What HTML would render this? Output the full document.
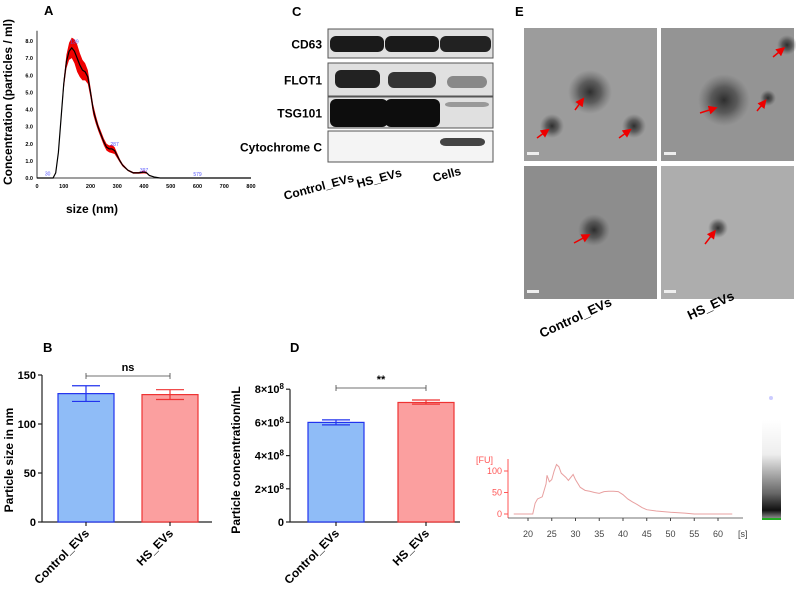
<!DOCTYPE html>
<html><head><meta charset="utf-8"><style>
html,body{margin:0;padding:0;background:#fff;}
svg{display:block;font-family:"Liberation Sans",Arial,sans-serif;}
</style></head><body>
<svg id="fig" width="796" height="598" viewBox="0 0 796 598" xmlns="http://www.w3.org/2000/svg">
<defs>
<radialGradient id="blob"><stop offset="0" stop-color="#222" stop-opacity="0.9"/><stop offset="0.5" stop-color="#333" stop-opacity="0.6"/><stop offset="1" stop-color="#555" stop-opacity="0"/></radialGradient>
<linearGradient id="lane" x1="0" y1="0" x2="0" y2="1"><stop offset="0" stop-color="#fff"/><stop offset="0.35" stop-color="#eee"/><stop offset="0.6" stop-color="#999"/><stop offset="0.75" stop-color="#666"/><stop offset="0.85" stop-color="#333"/><stop offset="0.92" stop-color="#111"/><stop offset="1" stop-color="#888"/></linearGradient>
<marker id="arr" markerWidth="6" markerHeight="6" refX="5" refY="3" orient="auto"><path d="M0,0 L6,3 L0,6 z" fill="#e00"/></marker>
</defs>
<g id="panelA"></g>
<g id="panelB"></g>
<g id="panelC"></g>
<g id="panelD"></g>
<g id="panelE"></g>
<g id="panelF"></g>
</svg>
<script>
// Panel A data
const ntaSize = [0,60,70,80,90,100,110,120,130,140,150,160,170,180,190,200,210,220,230,240,250,260,270,280,290,300,310,320,340,360,380,400,410,420,440,460,800];
const ntaConc = [0,0,0.3,1.5,3.5,5.5,6.8,7.4,7.6,7.4,7.0,6.6,6.3,6.2,5.9,5.0,4.0,3.4,2.9,2.5,2.1,1.8,1.7,1.7,1.6,1.3,1.0,0.75,0.45,0.3,0.3,0.35,0.3,0.15,0.05,0,0];
const ntaErr = [0,0,0.05,0.1,0.2,0.3,0.4,0.5,0.6,0.7,0.8,0.7,0.6,0.5,0.4,0.3,0.3,0.25,0.2,0.2,0.2,0.2,0.2,0.25,0.2,0.15,0.1,0.08,0.05,0.05,0.05,0.08,0.05,0.03,0.01,0,0];
const ntaPeakX = [40,140,290,400,600];
const ntaPeakY = [0.1,7.8,1.8,0.3,0.05];
const ntaPeakLbl = ["30","139","287","397","579"];
const ntaXTicks = [0,100,200,300,400,500,600,700,800];
const ntaYTicks = [0,1,2,3,4,5,6,7,8];
// Panel B data
const bCats = ["Control_EVs","HS_EVs"];
const bMean = [131,130];
const bLo = [123,125];
const bHi = [139,135];
const bTicks = [0,50,100,150];
// Panel D data
const dCats = ["Control_EVs","HS_EVs"];
const dMean = [6.0,7.2];
const dLo = [5.85,7.1];
const dHi = [6.15,7.35];
const dTicks = [0,2,4,6,8];
// Panel F data
const fTime = [17,21,21.5,22,23,23.8,24,24.5,25,25.5,26,26.5,27,28,28.5,29,29.5,30,31,32,33,34,35,36,37,38,39,40,41,42,43,44,45,47,50,53,55,63];
const fFU = [0,0,25,35,40,70,90,75,80,100,115,110,95,85,78,85,92,80,62,55,53,50,48,52,53,53,52,45,35,28,22,15,10,7,4,2,0,0];
const fXTicks = [20,25,30,35,40,45,50,55,60];
const fYTicks = [0,50,100];

const NS="http://www.w3.org/2000/svg";
function mk(parent,tag,attrs,text){const e=document.createElementNS(NS,tag);for(const k in attrs)e.setAttribute(k,attrs[k]);if(text!==undefined)e.textContent=text;parent.appendChild(e);return e;}

// ---------- Panel A ----------
(function(){
const g=document.getElementById('panelA');
const x=v=>37+v/800*214, y=v=>178-v/8*137;
let t=mk(g,'text',{x:44,y:15,'font-size':13,'font-weight':'bold'},'A');

let ax=mk(g,'path',{d:`M${x(0)},${y(8.6)}V${y(0)}H${x(800)}`,stroke:'#000','stroke-width':0.8,fill:'none'});

ntaYTicks.forEach(v=>{const l=mk(g,'text',{x:33,y:y(v)+2,'font-size':5.5,'font-weight':'bold','text-anchor':'end'},v.toFixed(1));
});
ntaXTicks.forEach(v=>{const l=mk(g,'text',{x:x(v),y:y(0)+10,'font-size':5.5,'font-weight':'bold','text-anchor':'middle'},v);
});
let up=ntaSize.map((s,i)=>`${x(s)},${y(ntaConc[i]+ntaErr[i])}`);
let dn=ntaSize.map((s,i)=>`${x(s)},${y(Math.max(0,ntaConc[i]-ntaErr[i]))}`).reverse();
let band=mk(g,'polygon',{points:up.concat(dn).join(' '),fill:'#ee0000'});

let ln=mk(g,'polyline',{points:ntaSize.map((s,i)=>`${x(s)},${y(ntaConc[i])}`).join(' '),fill:'none',stroke:'#000','stroke-width':1.2});

ntaPeakX.forEach((v,i)=>{const l=mk(g,'text',{x:x(v),y:y(ntaPeakY[i])-1,'font-size':5,fill:'#55f','text-anchor':'middle'},ntaPeakLbl[i]);
});
t=mk(g,'text',{x:0,y:0,'font-size':12,'font-weight':'bold','text-anchor':'middle',transform:'translate(12,102) rotate(-90)'},'Concentration (particles / ml)');

t=mk(g,'text',{x:92,y:213,'font-size':12,'font-weight':'bold','text-anchor':'middle'},'size (nm)');

})();

// ---------- bar chart helper ----------
function barChart(gid,prefix,label,lx,axX,cats,mean,lo,hi,ticks,yScale,tickFmt,title,titleX,sig,sigY,barX){
const g=document.getElementById(gid);
let t=mk(g,'text',{x:lx,y:352,'font-size':13,'font-weight':'bold'},label);

const base=522;
let a=mk(g,'path',{d:`M${axX},${yScale(ticks[ticks.length-1])}V${base}H${axX+170}`,stroke:'#222','stroke-width':1.2,fill:'none'});

ticks.forEach((v,i)=>{const yy=yScale(v);const tk=mk(g,'line',{x1:axX-4,x2:axX,y1:yy,y2:yy,stroke:'#222','stroke-width':1.2});

const tl=mk(g,'text',{x:axX-6,y:yy+4,'font-size':11,'font-weight':'bold','text-anchor':'end'});

tickFmt(tl,v);});
const fills=['#8fbcf7','#fb9f9f'],strokes=['#2233ee','#ee3333'];
cats.forEach((c,i)=>{const x0=barX[i],w=56,cx=x0+w/2;
const r=mk(g,'rect',{x:x0,y:yScale(mean[i]),width:w,height:base-yScale(mean[i]),fill:fills[i],stroke:strokes[i],'stroke-width':1.2});

const e=mk(g,'path',{d:`M${cx},${yScale(lo[i])}V${yScale(hi[i])}M${cx-14},${yScale(lo[i])}h28M${cx-14},${yScale(hi[i])}h28`,stroke:strokes[i],'stroke-width':1.2,fill:'none'});

const tk=mk(g,'line',{x1:cx,x2:cx,y1:base,y2:base+4,stroke:'#222','stroke-width':1.2});

const tl=mk(g,'text',{x:0,y:0,'font-size':12,'font-weight':'bold','text-anchor':'end',transform:`translate(${cx+4},${base+12}) rotate(-45)`},c);
});
const c0=barX[0]+28,c1=barX[1]+28;
const br=mk(g,'path',{d:`M${c0},${sigY-3}V${sigY+3}M${c0},${sigY}H${c1}M${c1},${sigY-3}V${sigY+3}`,stroke:'#444','stroke-width':0.8,fill:'none'});

const st=mk(g,'text',{x:(c0+c1)/2,y:sigY-5,'font-size':11,'font-weight':'bold','text-anchor':'middle'},sig);

const tt=mk(g,'text',{x:0,y:0,'font-size':12,'font-weight':'bold','text-anchor':'middle',transform:`translate(${titleX},${460}) rotate(-90)`},title);

}
barChart('panelB','b','B',43,42,bCats,bMean,bLo,bHi,bTicks,v=>522-v*0.98,(el,v)=>{el.textContent=v;},'Particle size in nm',13,'ns',376,[58,142]);
barChart('panelD','d','D',290,290,dCats,dMean,dLo,dHi,dTicks,v=>522-v*16.6,(el,v)=>{
 if(v===0){el.textContent='0';return;}
 el.textContent=v+'\u00d710';const s=document.createElementNS(NS,'tspan');s.setAttribute('dy',-4);s.setAttribute('font-size',8);s.textContent='8';el.appendChild(s);},
 'Particle concentration/mL',240,'**',388,[308,398]);

// ---------- Panel C ----------
(function(){
const g=document.getElementById('panelC');
let t=mk(g,'text',{x:292,y:16,'font-size':13,'font-weight':'bold'},'C');

const rows=[['CD63',29,58],['FLOT1',63,96],['TSG101',97,128],['Cytochrome C',131,162]];
rows.forEach(r=>{const f=mk(g,'rect',{x:328,y:r[1],width:165,height:r[2]-r[1],fill:r[0]==='Cytochrome C'?'#f4f4f4':'#e0e0e0',stroke:'#555','stroke-width':1});

const l=mk(g,'text',{x:322,y:(r[1]+r[2])/2+5,'font-size':12,'font-weight':'bold','text-anchor':'end'},r[0]);
});
const bands=[[330,36,54,16,'#1a1a1a'],[385,36,54,16,'#1a1a1a'],[440,36,51,16,'#222'],
[335,70,45,18,'#222'],[388,72,48,16,'#333'],[447,76,40,12,'#888'],
[330,99,58,28,'#0d0d0d'],[385,99,55,28,'#0d0d0d'],[445,102,44,5,'#999'],[440,138,45,8,'#444']];
bands.forEach(b=>{const e=mk(g,'rect',{x:b[0],y:b[1],width:b[2],height:b[3],rx:6,fill:b[4]});
});
[['Control_EVs',285,200],['HS_EVs',358,188],['Cells',434,182]].forEach(l=>{
const e=mk(g,'text',{x:0,y:0,'font-size':12,'font-weight':'bold',transform:`translate(${l[1]},${l[2]}) rotate(-15)`},l[0]);
});
})();

// ---------- Panel E ----------
(function(){
const g=document.getElementById('panelE');
let t=mk(g,'text',{x:515,y:16,'font-size':13,'font-weight':'bold'},'E');

const imgs=[[524,28,'#9c9c9c',[[590,92,22,[575,110]],[552,126,12,[537,138]],[634,126,12,[619,138]]]],
[661,28,'#949494',[[724,100,26,[700,113]],[787,45,10,[773,57]],[768,98,8,[757,111]]]],
[524,166,'#8d8d8d',[[594,230,16,[574,243]]]],
[661,166,'#adadad',[[718,228,10,[705,244]]]]];
imgs.forEach((im,i)=>{const r=mk(g,'rect',{x:im[0],y:im[1],width:133,height:133,fill:im[2]});

im[3].forEach(s=>{const c=mk(g,'circle',{cx:s[0],cy:s[1],r:s[2],fill:'url(#blob)'});

const a=mk(g,'line',{x1:s[3][0],y1:s[3][1],x2:s[0]-s[2]*0.3,y2:s[1]+s[2]*0.3,stroke:'#e00','stroke-width':1.5,'marker-end':'url(#arr)'});
});
const sb=mk(g,'rect',{x:im[0]+3,y:im[1]+124,width:12,height:3,fill:'#eee'});
});
[['Control_EVs',542,338],['HS_EVs',690,320]].forEach(l=>{const e=mk(g,'text',{x:0,y:0,'font-size':13,'font-weight':'bold',transform:`translate(${l[1]},${l[2]}) rotate(-25)`},l[0]);
});
})();

// ---------- Panel F ----------
(function(){
const g=document.getElementById('panelF');
const x=v=>528+(v-20)*4.75, y=v=>514-v*0.43;
let t=mk(g,'text',{x:768,y:468,'font-size':13,'font-weight':'bold'},'F');

let a=mk(g,'path',{d:`M508,459V518`,stroke:'#f55','stroke-width':1,fill:'none'});

a=mk(g,'path',{d:`M508,518H743`,stroke:'#444','stroke-width':0.8,fill:'none'});

fYTicks.forEach(v=>{const tk=mk(g,'line',{x1:504,x2:508,y1:y(v),y2:y(v),stroke:'#f55'});

const l=mk(g,'text',{x:502,y:y(v)+3,'font-size':9,fill:'#f55','text-anchor':'end'},v);
});
fXTicks.forEach(v=>{const tk=mk(g,'line',{x1:x(v),x2:x(v),y1:518,y2:521,stroke:'#444'});

const l=mk(g,'text',{x:x(v),y:537,'font-size':9,fill:'#444','text-anchor':'middle'},v);
});
t=mk(g,'text',{x:738,y:537,'font-size':9,fill:'#444'},'[s]');

t=mk(g,'text',{x:476,y:463,'font-size':9,fill:'#f55'},'[FU]');

const ln=mk(g,'polyline',{points:fTime.map((s,i)=>`${x(s)},${y(fFU[i])}`).join(' '),fill:'none',stroke:'#e8a0a0','stroke-width':1});

const lane=mk(g,'rect',{x:762,y:420,width:19,height:98,fill:'url(#lane)'});

const gr=mk(g,'rect',{x:762,y:518,width:19,height:2,fill:'#2a2'});

const dt=mk(g,'circle',{cx:771,cy:398,r:2,fill:'#ccf'});

})();
</script>
</body></html>
